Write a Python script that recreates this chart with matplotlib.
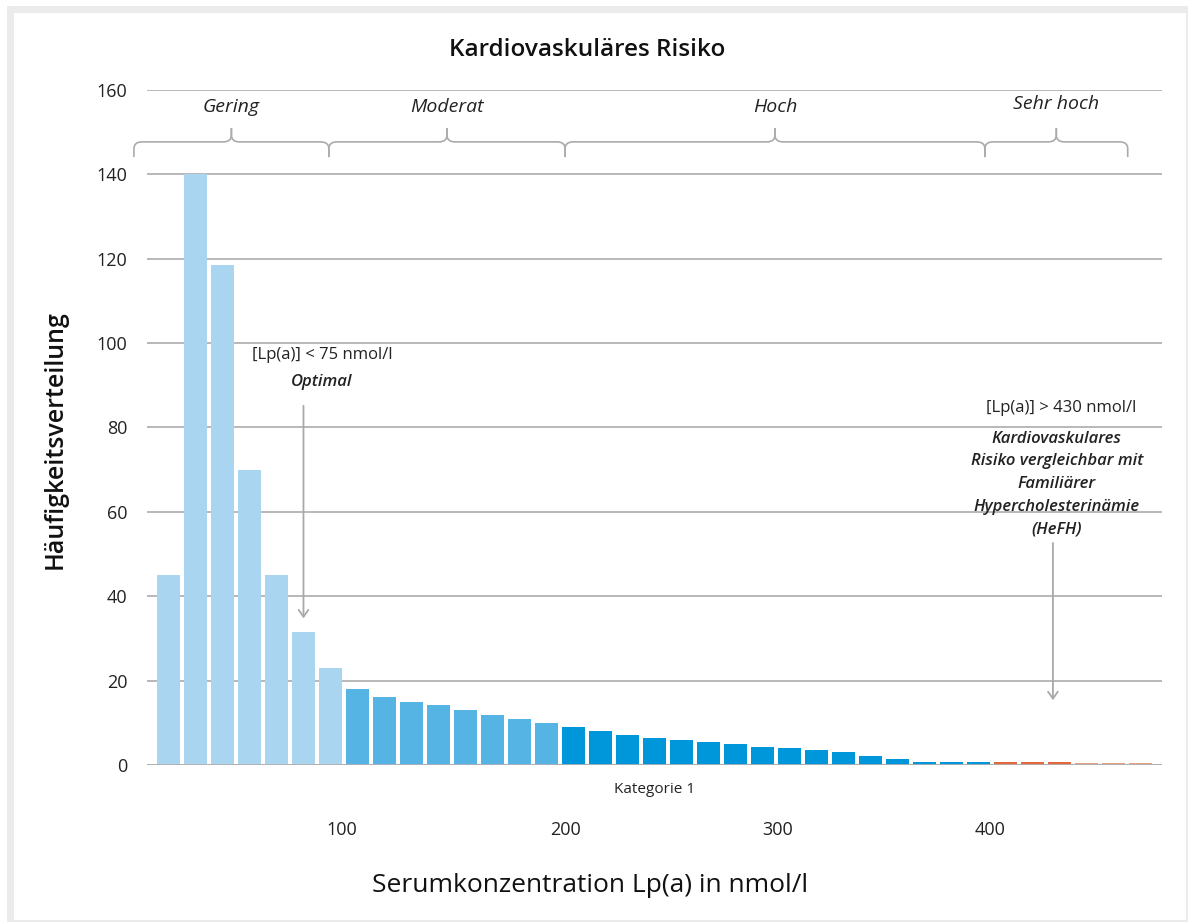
import matplotlib
matplotlib.use("Agg")
import matplotlib.pyplot as plt
from matplotlib.path import Path
from matplotlib.patches import PathPatch, Rectangle
import numpy as np

plt.rcParams['font.family'] = ['Open Sans', 'DejaVu Sans']

# ---- data ----
heights = [45, 140, 118.5, 70, 45, 31.5, 23,
           18, 16.1, 14.9, 14.2, 13.0, 11.8, 10.9, 10.0,
           9.0, 8.1, 7.1, 6.4, 5.9, 5.5, 5.0, 4.2, 4.0, 3.5, 3.0, 2.1, 1.4, 0.7, 0.7, 0.7,
           0.8, 0.8, 0.8,
           0.5, 0.5, 0.5]
groups = ([0] * 7) + ([1] * 8) + ([2] * 16) + ([3] * 3) + ([4] * 3)
group_colors = ['#A9D5F0', '#56B4E4', '#0096DA', '#E2693D', '#E3A083']
x_tick_pos = [6.43, 14.72, 22.57, 30.43]
x_tick_labels = ['100', '200', '300', '400']
y_ticks = [0, 20, 40, 60, 80, 100, 120, 140, 160]
risk_labels = ['Gering', 'Moderat', 'Hoch', 'Sehr hoch']
risk_bounds = [-1.28, 5.94, 14.69, 30.24, 35.53]

W, H = 1188, 922
fig = plt.figure(figsize=(W / 100, H / 100), dpi=100)
# outer frame
fc = '#EBEBEB'
for (x0, y0, w, h) in [(7, 0, 7, H - 6), (7, H - 13, W - 7, 7), (W - 2, 0, 2, H - 6), (7, 0, W - 7, 2)]:
    fig.patches.append(Rectangle((x0 / W, y0 / H), w / W, h / H, transform=fig.transFigure,
                                 facecolor=fc, edgecolor='none'))

L, R, B, T = 147, 1162, 765, 90
ax = fig.add_axes([L / W, (H - B) / H, (R - L) / W, (B - T) / H])

xs = np.arange(len(heights))
cols = [group_colors[g] for g in groups]
ax.bar(xs, heights, width=0.85, color=cols, zorder=3)

ax.set_xlim(-0.796, 36.8)
ax.set_ylim(0, 160)
for s in ax.spines.values():
    s.set_visible(False)
ax.set_yticks(y_ticks)
ax.set_yticklabels([str(v) for v in y_ticks])
ax.grid(axis='y', color='#ABABAE', linewidth=1.2, zorder=1)
ax.axhline(0, color='#B0B0B3', linewidth=2.0, zorder=4)
ax.tick_params(axis='y', length=0, pad=14, labelsize=13, labelcolor='#222222')
ax.set_xticks(x_tick_pos)
ax.set_xticklabels(x_tick_labels)
ax.tick_params(axis='x', length=0, pad=40, labelsize=13, labelcolor='#222222')

ax.text(18, -0.037, 'Kategorie 1', transform=ax.get_xaxis_transform(), ha='center', va='center',
        fontsize=11, color='#222222')

ax.set_ylabel('Häufigkeitsverteilung', fontsize=18, fontweight='semibold', color='#111111',
              va='center', ha='center')
ax.yaxis.set_label_coords((55 - L) / (R - L), (B - 440) / (B - T))
ax.set_xlabel('Serumkonzentration Lp(a) in nmol/l', fontsize=19, fontweight='medium', color='#111111',
              va='center', ha='center')
ax.xaxis.set_label_coords((590 - L) / (R - L), (B - 885) / (B - T))
ax.set_title('Kardiovaskuläres Risiko', fontsize=17.5, fontweight='semibold', color='#111111',
             x=(587 - L) / (R - L), y=(B - 50) / (B - T), va='center', pad=0)

# braces
def half_brace(xe, xm, y_low, y_mid, y_tip, rx, ry):
    d = 1 if xm > xe else -1
    verts = [(xe, y_low), (xe, y_mid - ry), (xe, y_mid), (xe + d * rx, y_mid),
             (xm - d * rx, y_mid), (xm, y_mid), (xm, y_mid + ry), (xm, y_tip)]
    codes = [Path.MOVETO, Path.LINETO, Path.CURVE3, Path.CURVE3,
             Path.LINETO, Path.CURVE3, Path.CURVE3, Path.LINETO]
    return Path(verts, codes)

y_low, y_mid, y_tip = 144.1, 147.7, 151.0
for i, lab in enumerate(risk_labels):
    a, b = risk_bounds[i], risk_bounds[i + 1]
    m = (a + b) / 2
    for e in (a, b):
        p = half_brace(e, m, y_low, y_mid, y_tip, 0.3, 1.6)
        ax.add_patch(PathPatch(p, facecolor='none', edgecolor='#ABABAE', linewidth=1.2,
                               clip_on=False, zorder=5))
    ax.text(m, 156.0 if i < 3 else 156.6, lab, ha='center', va='center', fontsize=14,
            style='italic', fontweight='medium', color='#222222', clip_on=False)

# annotations
ax.text(5.69, 97.2, '[Lp(a)] < 75 nmol/l', ha='center', va='center', fontsize=12, color='#222222')
ax.text(5.69, 90.8, 'Optimal', ha='center', va='center', fontsize=12, style='italic',
        fontweight='semibold', color='#222222')
ax.annotate('', xy=(5.0, 34.1), xytext=(5.0, 85.8),
            arrowprops=dict(arrowstyle='->,head_length=0.5,head_width=0.35', color='#A7A9AC', lw=1.3),
            zorder=6)

ax.text(33.05, 84.6, '[Lp(a)] > 430 nmol/l', ha='center', va='center', fontsize=12, color='#222222')
ax.text(32.9, 79.2, 'Kardiovaskulares\nRisiko vergleichbar mit\nFamiliärer\nHypercholesterinämie\n(HeFH)',
        ha='center', va='top', fontsize=12, style='italic', fontweight='semibold', color='#222222',
        linespacing=1.55)
ax.annotate('', xy=(32.76, 14.7), xytext=(32.76, 53.3),
            arrowprops=dict(arrowstyle='->,head_length=0.5,head_width=0.35', color='#A7A9AC', lw=1.3),
            zorder=6)

fig.savefig('out.png', dpi=100)
